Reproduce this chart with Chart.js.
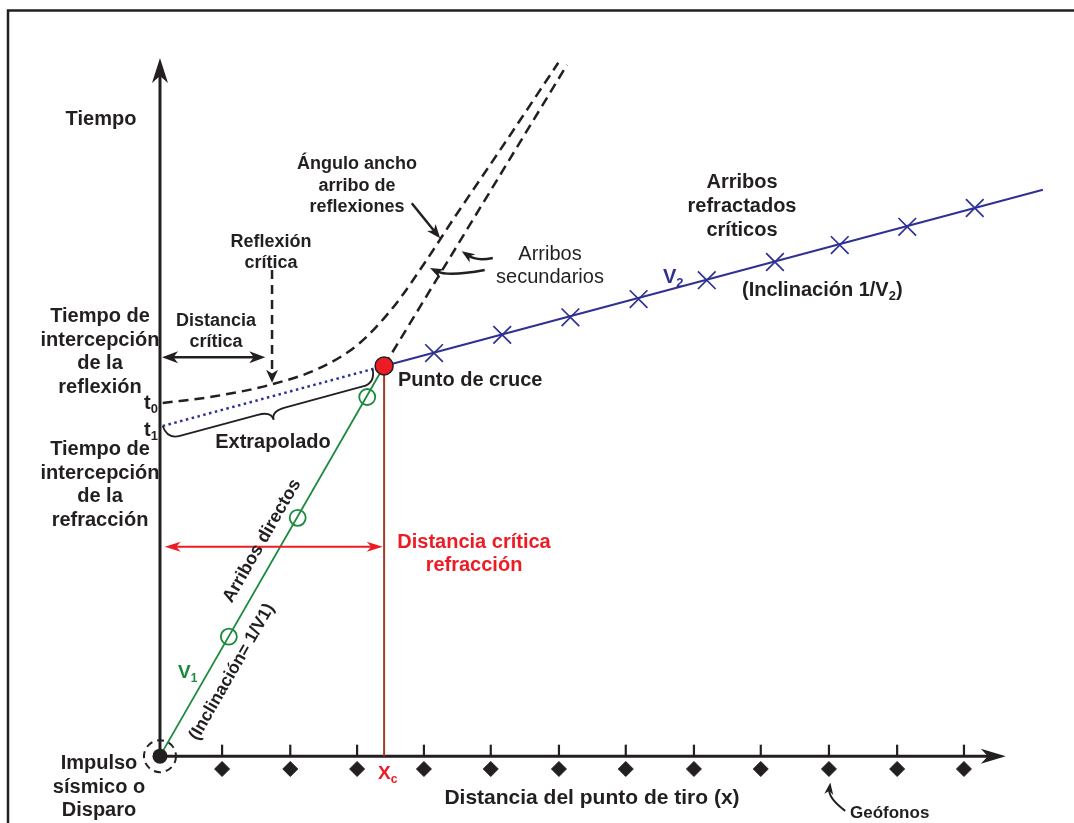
<!DOCTYPE html>
<html>
<head>
<meta charset="utf-8">
<title>Dromocrónica: refracción y reflexión</title>
<script src="https://cdn.jsdelivr.net/npm/chart.js@4.4.1/dist/chart.umd.min.js"></script>
<style>
  html, body { margin: 0; padding: 0; background: #fff; }
  canvas { display: block; }
</style>
</head>
<body>
<canvas id="grafico" width="1074" height="823"></canvas>
<script>
'use strict';

// distancia en separaciones de geófono, tiempo en unidades equivalentes
var geofonosX = [0.92, 1.93, 2.92, 3.91, 4.90, 5.91, 6.90, 7.91, 8.90, 9.91, 10.92, 11.91];
var directosX = [0, 3.32];
var directosT = [0, 5.78];
var directosMarcasX = [1.02, 2.04, 3.07];
var directosMarcasT = [1.77, 3.53, 5.32];
var refractadosX = [3.32, 13.08];
var refractadosT = [5.78, 8.39];
var refractadosMarcasX = [4.06, 5.07, 6.08, 7.09, 8.10, 9.11, 10.07, 11.07, 12.07];
var refractadosMarcasT = [5.97, 6.24, 6.50, 6.77, 7.05, 7.32, 7.57, 7.84, 8.12];
var extrapoladoX = [0.04, 3.32];
var extrapoladoT = [4.89, 5.78];
var reflexionX = [0.04, 0.81, 1.63, 2.37, 2.96, 3.48, 3.93, 4.37, 5.04, 5.90];
var reflexionT = [5.23, 5.33, 5.50, 5.75, 6.12, 6.68, 7.32, 7.99, 8.98, 10.27];
var secundariosX = [3.32, 6.03];
var secundariosT = [5.78, 10.24];
var cruceX = 3.32;
var cruceT = 5.78;

var NEGRO = '#231f20';
var VERDE = '#1b8a3c';
var AZUL = '#2e3192';
var ROJO = '#ed1c24';
var MARRON = '#a23b28';
var FUENTE = '"Liberation Sans", Arial, Helvetica, sans-serif';

function fuente(tam, peso) {
    return (peso || 'bold') + ' ' + tam + 'px ' + FUENTE;
}

function puntos(xs, ts) {
    return xs.map(function (x, i) { return { x: x, y: ts[i] }; });
}

function punta(ctx, x, y, ang, largo, ancho) {
    ctx.save();
    ctx.translate(x, y);
    ctx.rotate(ang);
    ctx.beginPath();
    ctx.moveTo(0, 0);
    ctx.lineTo(-largo, -ancho);
    ctx.lineTo(-largo * 0.72, 0);
    ctx.lineTo(-largo, ancho);
    ctx.closePath();
    ctx.fill();
    ctx.restore();
}

function flecha(ctx, x0, y0, x1, y1, largo, ancho, doble) {
    var ang = Math.atan2(y1 - y0, x1 - x0);
    var c = Math.cos(ang), s = Math.sin(ang), r = largo * 0.6;
    ctx.beginPath();
    ctx.moveTo(doble ? x0 + c * r : x0, doble ? y0 + s * r : y0);
    ctx.lineTo(x1 - c * r, y1 - s * r);
    ctx.stroke();
    ctx.setLineDash([]);
    punta(ctx, x1, y1, ang, largo, ancho);
    if (doble) punta(ctx, x0, y0, ang + Math.PI, largo, ancho);
}

function flechaCurva(ctx, x0, y0, cx, cy, x1, y1, largo, ancho) {
    var ang = Math.atan2(y1 - cy, x1 - cx), r = largo * 0.6;
    ctx.beginPath();
    ctx.moveTo(x0, y0);
    ctx.quadraticCurveTo(cx, cy, x1 - Math.cos(ang) * r, y1 - Math.sin(ang) * r);
    ctx.stroke();
    punta(ctx, x1, y1, ang, largo, ancho);
}

function llave(ctx, x0, y0, x1, y1, cuerpo, pico) {
    var L = Math.hypot(x1 - x0, y1 - y0), m = L / 2, r = 14;
    ctx.save();
    ctx.translate(x0, y0);
    ctx.rotate(Math.atan2(y1 - y0, x1 - x0));
    ctx.beginPath();
    ctx.moveTo(0, 0);
    ctx.quadraticCurveTo(1, cuerpo, r, cuerpo);
    ctx.lineTo(m - r, cuerpo);
    ctx.quadraticCurveTo(m, cuerpo, m, pico);
    ctx.quadraticCurveTo(m, cuerpo, m + r, cuerpo);
    ctx.lineTo(L - r, cuerpo);
    ctx.quadraticCurveTo(L - 1, cuerpo, L, 0);
    ctx.stroke();
    ctx.restore();
}

function parrafo(ctx, lineas, x, y, alto, f, color, align) {
    ctx.font = f;
    ctx.fillStyle = color;
    ctx.textAlign = align || 'center';
    ctx.textBaseline = 'alphabetic';
    lineas.forEach(function (l, i) { ctx.fillText(l, x, y + i * alto); });
}

function conSub(ctx, partes, x, y, tam, color, align) {
    var fb = fuente(tam), fs = fuente(Math.round(tam * 0.65)), total = 0;
    partes.forEach(function (p) { ctx.font = p[1] ? fs : fb; total += ctx.measureText(p[0]).width; });
    var cx = align === 'center' ? x - total / 2 : (align === 'right' ? x - total : x);
    ctx.fillStyle = color;
    ctx.textAlign = 'left';
    ctx.textBaseline = 'alphabetic';
    partes.forEach(function (p) {
        ctx.font = p[1] ? fs : fb;
        ctx.fillText(p[0], cx, p[1] ? y + tam * 0.2 : y);
        cx += ctx.measureText(p[0]).width;
    });
}

function rotado(ctx, txt, x, y, ang, f, color) {
    ctx.save();
    ctx.translate(x, y);
    ctx.rotate(ang);
    ctx.font = f;
    ctx.fillStyle = color;
    ctx.textAlign = 'center';
    ctx.textBaseline = 'middle';
    ctx.fillText(txt, 0, 0);
    ctx.restore();
}

var esquema = {
    id: 'esquema',

    beforeDatasetsDraw: function (chart) {
        var ctx = chart.ctx, sx = chart.scales.x, sy = chart.scales.y;
        var X = function (v) { return sx.getPixelForValue(v); };
        var Y = function (v) { return sy.getPixelForValue(v); };

        ctx.save();
        // marco
        ctx.strokeStyle = NEGRO;
        ctx.lineWidth = 2.5;
        ctx.beginPath();
        ctx.moveTo(8, chart.height);
        ctx.lineTo(8, 10.5);
        ctx.lineTo(chart.width, 10.5);
        ctx.stroke();

        // ejes
        ctx.fillStyle = NEGRO;
        ctx.lineWidth = 3;
        flecha(ctx, X(0), Y(0), X(0), Y(10.34), 25, 8);
        flecha(ctx, X(0), Y(0), X(12.53), Y(0), 25, 7.5);

        // geófonos
        ctx.lineWidth = 2.2;
        geofonosX.forEach(function (g) {
            ctx.beginPath();
            ctx.moveTo(X(g), Y(0));
            ctx.lineTo(X(g), Y(0.17));
            ctx.stroke();
        });
        ctx.restore();
    },

    afterDatasetsDraw: function (chart) {
        var ctx = chart.ctx, sx = chart.scales.x, sy = chart.scales.y;
        var X = function (v) { return sx.getPixelForValue(v); };
        var Y = function (v) { return sy.getPixelForValue(v); };

        ctx.save();
        ctx.lineCap = 'butt';

        // disparo
        ctx.fillStyle = NEGRO;
        ctx.strokeStyle = NEGRO;
        ctx.beginPath();
        ctx.arc(X(0), Y(0), 7.5, 0, Math.PI * 2);
        ctx.fill();
        ctx.lineWidth = 2;
        ctx.setLineDash([7, 5]);
        ctx.beginPath();
        ctx.arc(X(0), Y(0), 16, 0, Math.PI * 2);
        ctx.stroke();
        ctx.setLineDash([]);

        // distancia crítica (reflexión)
        ctx.lineWidth = 2.5;
        flecha(ctx, X(0.03), Y(5.91), X(1.56), Y(5.91), 16, 6, true);

        // reflexión crítica
        ctx.setLineDash([9, 6]);
        flecha(ctx, X(1.66), Y(7.2), X(1.66), Y(5.53), 13, 6);

        // ángulo ancho
        ctx.lineWidth = 2.5;
        flecha(ctx, X(3.73), Y(8.19), X(4.15), Y(7.67), 14, 5.5);

        // arribos secundarios
        flechaCurva(ctx, X(4.93), Y(7.38), X(4.69), Y(7.33), X(4.47), Y(7.48), 13, 5);
        flechaCurva(ctx, X(4.81), Y(7.20), X(4.27), Y(7.10), X(4.0), Y(7.23), 13, 5);

        // geófonos
        ctx.lineWidth = 2;
        flechaCurva(ctx, X(10.15), Y(-0.81), X(9.90), Y(-0.62), X(9.93), Y(-0.39), 12, 4.5);

        // distancia crítica refracción
        ctx.strokeStyle = ROJO;
        ctx.fillStyle = ROJO;
        ctx.lineWidth = 2;
        flecha(ctx, X(0.07), Y(3.10), X(3.30), Y(3.10), 16, 5, true);

        // llave extrapolado
        ctx.strokeStyle = NEGRO;
        ctx.lineWidth = 1.8;
        llave(ctx, X(0.04), Y(4.89), X(3.15), Y(5.73), 14, 23);

        // textos
        parrafo(ctx, ['Tiempo'], 101, 125, 0, fuente(20), NEGRO);
        parrafo(ctx, ['Tiempo de', 'intercepción', 'de la', 'reflexión'], 100, 322, 23.7, fuente(20), NEGRO);
        parrafo(ctx, ['Tiempo de', 'intercepción', 'de la', 'refracción'], 100, 455, 23.7, fuente(20), NEGRO);
        parrafo(ctx, ['Impulso', 'sísmico o', 'Disparo'], 99, 769, 23.7, fuente(20), NEGRO);
        conSub(ctx, [['t'], ['0', 1]], 158, 409, 20, NEGRO, 'right');
        conSub(ctx, [['t'], ['1', 1]], 158, 436, 20, NEGRO, 'right');
        parrafo(ctx, ['Distancia', 'crítica'], 216, 326, 21, fuente(18), NEGRO);
        parrafo(ctx, ['Reflexión', 'crítica'], 271, 247, 20.5, fuente(18), NEGRO);
        parrafo(ctx, ['Ángulo ancho', 'arribo de', 'reflexiones'], 357, 169, 21.5, fuente(18), NEGRO);
        parrafo(ctx, ['Arribos', 'secundarios'], 550, 260, 23, fuente(20, 'normal'), NEGRO);
        parrafo(ctx, ['Arribos', 'refractados', 'críticos'], 742, 188, 24, fuente(20), NEGRO);
        conSub(ctx, [['V'], ['2', 1]], 663, 283, 20, AZUL, 'left');
        conSub(ctx, [['(Inclinación 1/V'], ['2', 1], [')']], 742, 296, 20, NEGRO, 'left');
        parrafo(ctx, ['Punto de cruce'], 398, 386, 0, fuente(20), NEGRO, 'left');
        parrafo(ctx, ['Extrapolado'], 273, 448, 0, fuente(20), NEGRO);
        parrafo(ctx, ['Distancia crítica', 'refracción'], 474, 548, 23, fuente(20), ROJO);
        conSub(ctx, [['X'], ['c', 1]], 378, 779, 19, ROJO, 'left');
        conSub(ctx, [['V'], ['1', 1]], 178, 678, 19, VERDE, 'left');
        parrafo(ctx, ['Distancia del punto de tiro (x)'], 592, 804, 0, fuente(21), NEGRO);
        parrafo(ctx, ['Geófonos'], 850, 818, 0, fuente(17), NEGRO, 'left');

        var ang = Math.atan2(Y(cruceT) - Y(0), X(cruceX) - X(0));
        rotado(ctx, 'Arribos directos', 262, 541, ang, fuente(18), NEGRO);
        rotado(ctx, '(Inclinación= 1/V1)', 232, 672, ang, fuente(17.5), NEGRO);
        ctx.restore();
    }
};

var GEOFONO_T = -0.19;

new Chart(document.getElementById('grafico'), {
    type: 'scatter',
    data: {
        datasets: [{
            label: 'Punto de cruce',
            data: [{ x: cruceX, y: cruceT }],
            pointRadius: 9,
            pointBackgroundColor: ROJO,
            pointBorderColor: NEGRO,
            pointBorderWidth: 1.5,
            order: 0
        }, {
            label: 'Arribos directos (marcas)',
            data: puntos(directosMarcasX, directosMarcasT),
            pointStyle: 'circle',
            pointRadius: 8,
            pointBackgroundColor: 'rgba(0,0,0,0)',
            pointBorderColor: VERDE,
            pointBorderWidth: 1.8,
            order: 1
        }, {
            label: 'Arribos refractados (marcas)',
            data: puntos(refractadosMarcasX, refractadosMarcasT),
            pointStyle: 'crossRot',
            pointRadius: 12.5,
            pointBorderColor: AZUL,
            pointBorderWidth: 1.7,
            order: 1
        }, {
            label: 'Geófonos',
            data: geofonosX.map(function (g) { return { x: g, y: GEOFONO_T }; }),
            pointStyle: 'rectRot',
            pointRadius: 7.5,
            pointBackgroundColor: NEGRO,
            pointBorderColor: NEGRO,
            pointBorderWidth: 1,
            order: 1
        }, {
            label: 'Arribos directos',
            data: puntos(directosX, directosT),
            showLine: true,
            borderColor: VERDE,
            borderWidth: 1.8,
            pointRadius: 0,
            order: 2
        }, {
            label: 'Arribos refractados',
            data: puntos(refractadosX, refractadosT),
            showLine: true,
            borderColor: AZUL,
            borderWidth: 2,
            pointRadius: 0,
            order: 2
        }, {
            label: 'Extrapolado',
            data: puntos(extrapoladoX, extrapoladoT),
            showLine: true,
            borderColor: AZUL,
            borderWidth: 2.5,
            borderDash: [2.5, 3.5],
            pointRadius: 0,
            order: 2
        }, {
            label: 'Reflexión',
            data: puntos(reflexionX, reflexionT),
            showLine: true,
            cubicInterpolationMode: 'monotone',
            borderColor: NEGRO,
            borderWidth: 2.5,
            borderDash: [10, 6],
            pointRadius: 0,
            order: 2
        }, {
            label: 'Arribos secundarios',
            data: puntos(secundariosX, secundariosT),
            showLine: true,
            borderColor: NEGRO,
            borderWidth: 2.5,
            borderDash: [10, 6],
            pointRadius: 0,
            order: 2
        }, {
            label: 'Xc',
            data: [{ x: cruceX, y: cruceT }, { x: cruceX, y: 0 }],
            showLine: true,
            borderColor: MARRON,
            borderWidth: 2,
            pointRadius: 0,
            order: 3
        }]
    },
    options: {
        responsive: false,
        animation: false,
        events: [],
        layout: { padding: 0, autoPadding: false },
        plugins: {
            legend: { display: false },
            tooltip: { enabled: false }
        },
        scales: {
            x: { type: 'linear', display: false, min: -2.37, max: 13.54 },
            y: { type: 'linear', display: false, min: -0.99, max: 11.2 }
        }
    },
    plugins: [esquema]
});
</script>
</body>
</html>
